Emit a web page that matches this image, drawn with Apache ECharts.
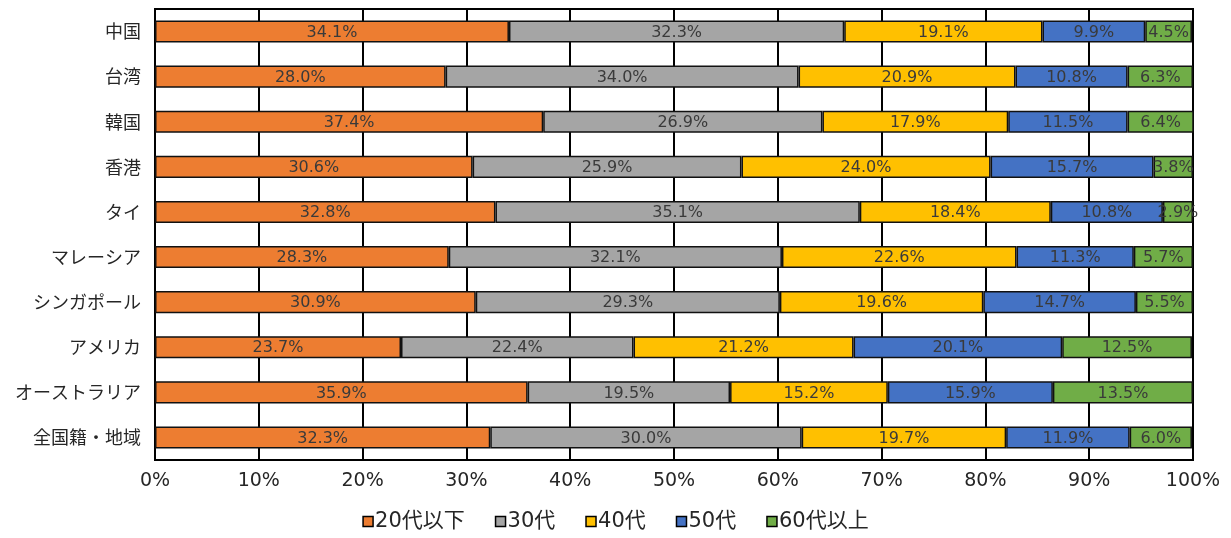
<!DOCTYPE html>
<html><head><meta charset="utf-8">
<script src="https://cdn.jsdelivr.net/npm/echarts@6/dist/echarts.min.js"></script>
<style>html,body{margin:0;padding:0;background:#fff}#c{width:1231px;height:538px}</style>
</head><body><div id="c"></div>
<script>
const categories = ['中国','台湾','韓国','香港','タイ','マレーシア','シンガポール','アメリカ','オーストラリア','全国籍・地域'];
const seriesNames = ['20代以下','30代','40代','50代','60代以上'];
const s20 = [34.1,28.0,37.4,30.6,32.8,28.3,30.9,23.7,35.9,32.3];
const s30 = [32.3,34.0,26.9,25.9,35.1,32.1,29.3,22.4,19.5,30.0];
const s40 = [19.1,20.9,17.9,24.0,18.4,22.6,19.6,21.2,15.2,19.7];
const s50 = [9.9,10.8,11.5,15.7,10.8,11.3,14.7,20.1,15.9,11.9];
const s60 = [4.5,6.3,6.4,3.8,2.9,5.7,5.5,12.5,13.5,6.0];
const xTicks = [0,10,20,30,40,50,60,70,80,90,100];
const colors = ['#ED7D31','#A5A5A5','#FFC000','#4472C4','#70AD47'];
const font = '"DejaVu Sans","Noto Sans CJK JP",sans-serif';
const cjk = '"Noto Sans CJK JP","Noto Sans",sans-serif';
const all = [s20,s30,s40,s50,s60];
const chart = echarts.init(document.getElementById('c'));
chart.setOption({
  animation:false,
  color:colors,
  grid:{left:155,right:38,top:9,bottom:78,show:true,borderColor:'#000',borderWidth:2,backgroundColor:'transparent'},
  legend:{bottom:1,left:'center',itemWidth:10,itemHeight:10,itemGap:30,icon:'rect',
    textStyle:{fontFamily:font,fontSize:21,color:'#262626',padding:[0,0,0,-3]},
    itemStyle:{borderColor:'#000',borderWidth:1.5},
    data:seriesNames},
  xAxis:{type:'value',min:0,max:100,interval:10,
    axisLabel:{formatter:v=>v+'%',fontFamily:font,fontSize:19,color:'#262626',margin:12},
    axisLine:{show:false},axisTick:{show:false},
    splitLine:{show:true,lineStyle:{color:'#000',width:2}}},
  yAxis:{type:'category',inverse:true,data:categories,
    axisLabel:{fontFamily:cjk,fontSize:18,color:'#262626',margin:14},
    axisLine:{show:true,lineStyle:{color:'#000',width:2}},axisTick:{show:false}},
  series: all.map((arr,i)=>({
    name:seriesNames[i],type:'bar',stack:'t',barWidth:'49%',
    data:arr,
    itemStyle:{borderColor:'#111',borderWidth:1.5},
    label:{show:true,position:'inside',formatter:p=>p.value.toFixed(1)+'%',
      fontFamily:font,fontSize:16,color:'#3a3a3a',offset:[0,1]}
  }))
});
</script></body></html>
